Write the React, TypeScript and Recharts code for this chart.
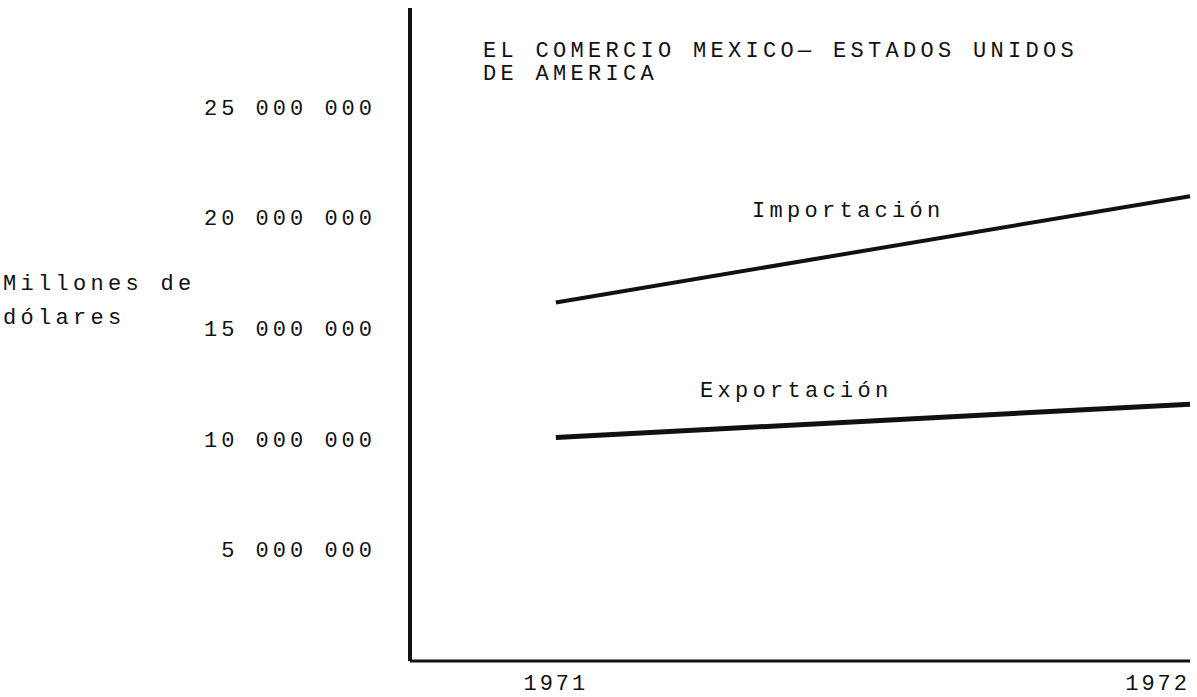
import { LineChart, Line, XAxis, YAxis } from 'recharts';

const years = [1971, 1972];
const importacion = [16200000, 21000000];
const exportacion = [10100000, 11600000];
const yTicks = [5000000, 10000000, 15000000, 20000000, 25000000];

const data = years.map((year, i) => ({
  year,
  importacion: importacion[i],
  exportacion: exportacion[i],
}));

const mono = '"Liberation Mono", "DejaVu Sans Mono", monospace';
const ink = '#111';

const fmt = (v: number) => v.toLocaleString('en-US').replace(/,/g, ' ');

const YTick = (props: any) => {
  const { y, payload } = props;
  return (
    <text x={376} y={y + 7} textAnchor="end" fontFamily={mono} fontSize={22}
      letterSpacing={4} fill={ink}>
      {fmt(payload.value)}
    </text>
  );
};

const XTick = (props: any) => {
  const { x, payload } = props;
  const last = payload.value === years[years.length - 1];
  return (
    <text x={last ? x + 9 : x} y={690} textAnchor={last ? 'end' : 'middle'}
      fontFamily={mono} fontSize={22} letterSpacing={3} fill={ink}>
      {payload.value}
    </text>
  );
};

const txt: React.CSSProperties = {
  position: 'absolute',
  fontFamily: mono,
  fontSize: 22,
  letterSpacing: 4.3,
  color: ink,
  whiteSpace: 'pre',
  lineHeight: '23px',
};

export default function App() {
  return (
    <div style={{ position: 'absolute', left: 0, top: 0, width: 1197, height: 697, background: '#fff' }}>
      <LineChart width={1197} height={697} data={data}
        margin={{ top: 8, right: 7, left: 0, bottom: 0 }}>
        <XAxis
          dataKey="year"
          type="number"
          domain={[1970.77, 1972]}
          ticks={years}
          height={36}
          axisLine={{ stroke: ink, strokeWidth: 3 }}
          tickLine={false}
          tick={<XTick />}
        />
        <YAxis
          type="number"
          domain={[0, 29500000]}
          ticks={yTicks}
          width={410}
          axisLine={{ stroke: ink, strokeWidth: 4 }}
          tickLine={false}
          tick={<YTick />}
        />
        <Line type="linear" dataKey="importacion" stroke={ink} strokeWidth={4}
          dot={false} isAnimationActive={false} />
        <Line type="linear" dataKey="exportacion" stroke={ink} strokeWidth={5}
          dot={false} isAnimationActive={false} />
      </LineChart>

      <div style={{ ...txt, left: 483, top: 40 }}>
        {'EL COMERCIO MEXICO— ESTADOS UNIDOS\nDE AMERICA'}
      </div>
      <div style={{ ...txt, left: 3, top: 268, lineHeight: '34px' }}>
        {'Millones de\ndólares'}
      </div>
      <div style={{ ...txt, left: 752, top: 200 }}>Importación</div>
      <div style={{ ...txt, left: 700, top: 380 }}>Exportación</div>
    </div>
  );
}
